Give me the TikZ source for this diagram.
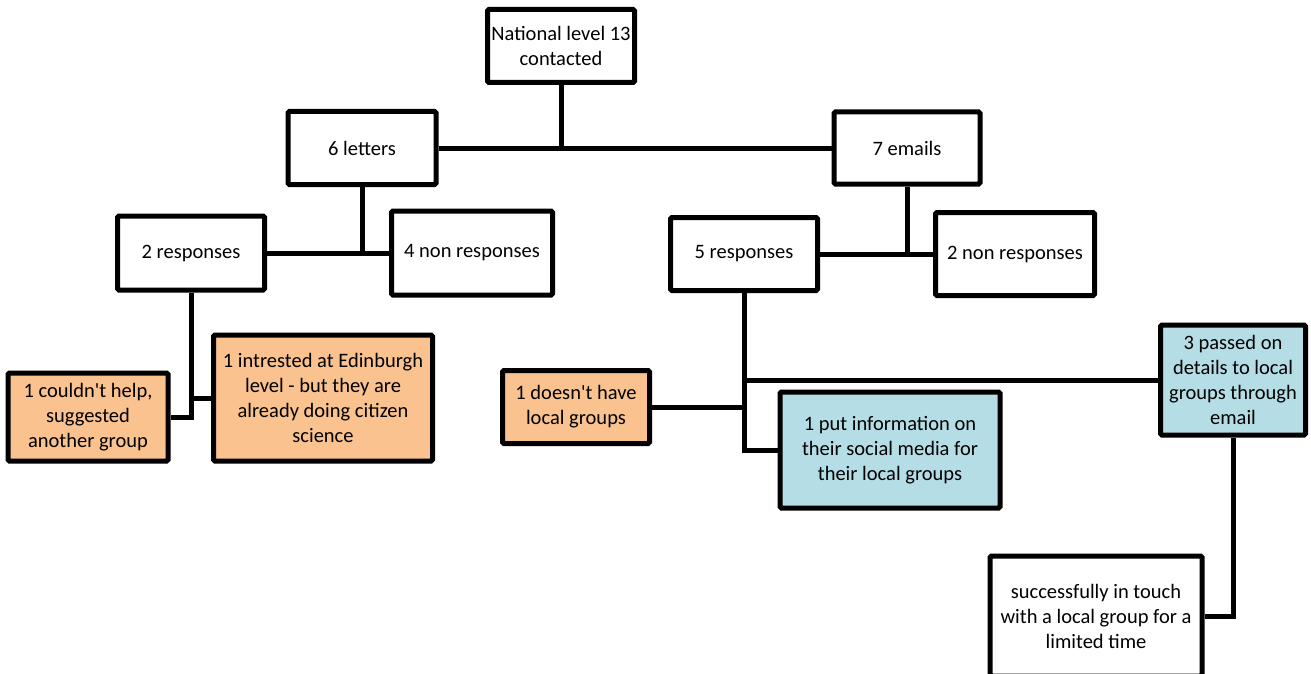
\documentclass[tikz,border=0pt]{standalone}
\usepackage{fontspec}
\setmainfont{Carlito}
\usetikzlibrary{positioning,calc}
\definecolor{boxorange}{HTML}{F9C28F}
\definecolor{boxblue}{HTML}{B5DDE6}

\begin{document}
\begin{tikzpicture}[x=1pt,y=-1pt,
    box/.style={draw=black,line width=5pt,fill=white,align=center,inner sep=1pt,
        rounded corners=1.5pt,font=\fontsize{20.5}{25}\selectfont},
    boxO/.style={box,fill=boxorange},
    boxB/.style={box,fill=boxblue},
    link/.style={line width=5pt,line join=miter}]

    \useasboundingbox (0,0) rectangle (1311,674);
    \clip (0,0) rectangle (1311,674);

    % boxes
    \node[box,minimum width=147pt,minimum height=73pt] (nat) at (561,46) {National level 13\\contacted};

    \node[box,minimum width=148pt,minimum height=73pt] (letters) at (362,148) {6 letters};
    \node[box,minimum width=146pt,minimum height=72pt] (emails) at (907,148) {7 emails};

    \node[box,minimum width=147pt,minimum height=74pt] (resp2) at (191,253) {2 responses};
    \node[box,minimum width=161pt,minimum height=84pt] (nonresp4) at (472,253) {4 non responses};

    \node[box,minimum width=147pt,minimum height=73pt] (resp5) at (744,254) {5 responses};
    \node[box,minimum width=159pt,minimum height=83pt] (nonresp2) at (1015,254) {2 non responses};

    \node[boxO,minimum width=160pt,minimum height=88pt] (nohelp) at (88,417) {1 couldn\textquotesingle t help,\\suggested\\another group};
    \node[boxO,minimum width=219pt,minimum height=126pt] (edin) at (323,398) {1 intrested at Edinburgh\\level - but they are\\already doing citizen\\science};

    \node[boxO,minimum width=147pt,minimum height=73pt] (nolocal) at (576,407) {1 doesn\textquotesingle t have\\local groups};
    \node[boxB,minimum width=220pt,minimum height=116pt] (social) at (890,450) {1 put information on\\their social media for\\their local groups};
    \node[boxB,minimum width=145pt,minimum height=110pt] (passed) at (1233,380) {3 passed on\\details to local\\groups through\\email};

    \node[box,minimum width=212pt,minimum height=120pt] (touch) at (1096,616) {successfully in touch\\with a local group for a\\limited time};

    % national level split
    \draw[link] (nat.south) -- (nat.south |- letters.east);
    \draw[link] (letters.east) -- (emails.west);

    % letters
    \draw[link] (letters.south) -- (letters.south |- resp2.east);
    \draw[link] (resp2.east) -- (nonresp4.west);
    \draw[link] (resp2.south) |- (nohelp.east);
    \draw[link] (resp2.south |- edin.west) -- (edin.west);

    % emails
    \draw[link] (emails.south) -- (emails.south |- resp5.east);
    \draw[link] (resp5.east) -- (nonresp2.west);
    \draw[link] (resp5.south) |- (social.west);
    \draw[link] (resp5.south |- passed.west) -- (passed.west);
    \draw[link] (resp5.south |- nolocal.east) -- (nolocal.east);
    \draw[link] (passed.south) |- (touch.east);
\end{tikzpicture}
\end{document}
